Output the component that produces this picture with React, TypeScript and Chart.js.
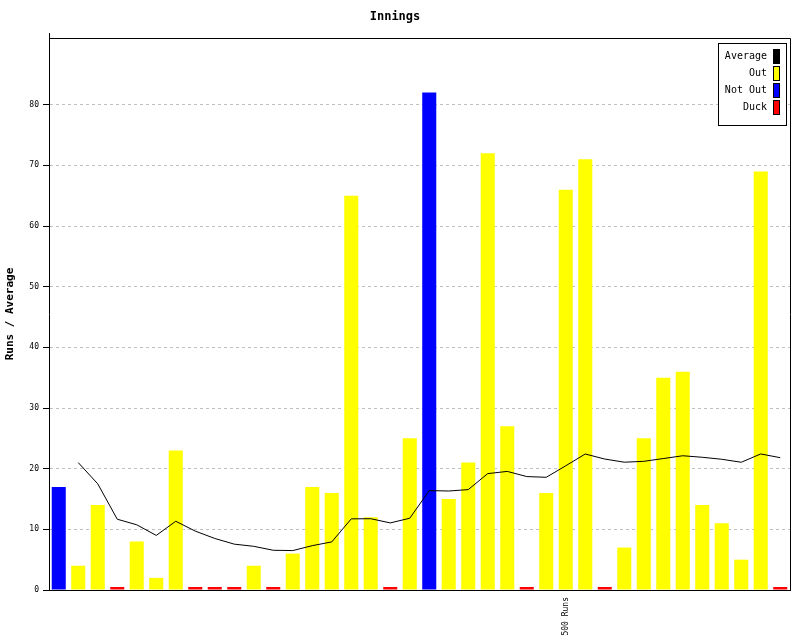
import React, { useEffect, useRef } from 'react';
import { Chart, registerables } from 'chart.js';

Chart.register(...registerables);

const chartTitle = 'Innings';
const yAxisTitle = 'Runs / Average';

const innings = [
  1, 2, 3, 4, 5, 6, 7, 8, 9, 10, 11, 12, 13, 14, 15, 16, 17, 18, 19,
  20, 21, 22, 23, 24, 25, 26, 27, 28, 29, 30, 31, 32, 33, 34, 35, 36, 37, 38,
];

const runs = [
  17, 4, 14, 0, 8, 2, 23, 0, 0, 0, 4, 0, 6, 17, 16, 65, 12, 0, 25,
  82, 15, 21, 72, 27, 0, 16, 66, 71, 0, 7, 25, 35, 36, 14, 11, 5, 69, 0,
];

const notOutInnings = [1, 20];

const average = [
  null, 21, 17.5, 11.67, 10.75, 9, 11.33, 9.71, 8.5, 7.56, 7.2, 6.55, 6.5, 7.31, 7.93, 11.73, 11.75, 11.06, 11.83,
  16.39, 16.32, 16.55, 19.19, 19.55, 18.7, 18.58, 20.48, 22.42, 21.59, 21.07, 21.21, 21.67, 22.13, 21.88, 21.55, 21.06, 22.43, 21.81,
];

const milestoneInnings = [27];
const milestoneLabels = ['500 Runs'];

const yTicks = [0, 10, 20, 30, 40, 50, 60, 70, 80];
const yMax = 91;

const legendLabels = ['Average', 'Out', 'Not Out', 'Duck'];
const legendColors = ['#000000', '#ffff00', '#0000ff', '#ff0000'];

const OUT_COLOR = '#ffff00';
const NOT_OUT_COLOR = '#0000ff';
const DUCK_COLOR = '#ff0000';

const MONO = '"DejaVu Sans Mono", "Liberation Mono", monospace';

const framePlugin = {
  id: 'frame',
  afterDraw(chart: any) {
    const { ctx, chartArea: a } = chart;
    ctx.save();
    ctx.strokeStyle = '#000';
    ctx.lineWidth = 1;
    ctx.beginPath();
    // left axis short extension above the area
    ctx.moveTo(Math.round(a.left) + 0.5, Math.round(a.top) - 5);
    ctx.lineTo(Math.round(a.left) + 0.5, Math.round(a.top) + 0.5);
    // top border
    ctx.lineTo(Math.round(a.right) + 0.5, Math.round(a.top) + 0.5);
    // right border
    ctx.lineTo(Math.round(a.right) + 0.5, Math.round(a.bottom) + 0.5);
    ctx.stroke();

    // legend
    const rowH = 17;
    const right = Math.round(a.right) - 4;
    const top = Math.round(a.top) + 5;
    const width = 68;
    const height = legendLabels.length * rowH + 14;
    ctx.fillStyle = '#fff';
    ctx.fillRect(right - width, top, width, height);
    ctx.strokeRect(right - width + 0.5, top + 0.5, width, height);
    ctx.font = `10px ${MONO}`;
    ctx.textAlign = 'right';
    ctx.textBaseline = 'middle';
    legendLabels.forEach((lab, i) => {
      const cy = top + 13 + i * rowH;
      ctx.fillStyle = '#000';
      ctx.fillText(lab, right - 19, cy);
      ctx.fillStyle = legendColors[i];
      ctx.fillRect(right - 13, cy - 7, 6, 14);
      ctx.strokeStyle = '#000';
      ctx.strokeRect(right - 13 + 0.5, cy - 7 + 0.5, 6, 14);
    });
    ctx.restore();
  },
};

export default function App() {
  const canvasRef = useRef<HTMLCanvasElement | null>(null);

  useEffect(() => {
    if (!canvasRef.current) return;
    const barColors = innings.map((inn, i) =>
      notOutInnings.includes(inn) ? NOT_OUT_COLOR : runs[i] === 0 ? DUCK_COLOR : OUT_COLOR
    );
    const chart = new Chart(canvasRef.current, {
      type: 'bar',
      data: {
        labels: innings.map(String),
        datasets: [
          {
            type: 'line',
            label: 'Average',
            data: average as any,
            borderColor: '#000',
            borderWidth: 1,
            pointRadius: 0,
            tension: 0,
            fill: false,
            order: 0,
          } as any,
          {
            type: 'bar',
            label: 'Runs',
            data: runs,
            backgroundColor: barColors,
            borderWidth: 0,
            barPercentage: 0.72,
            categoryPercentage: 1,
            minBarLength: 3,
            order: 1,
          } as any,
        ],
      },
      options: {
        responsive: false,
        maintainAspectRatio: false,
        animation: false,
        layout: { padding: { left: 0, right: 10, top: 0, bottom: 0 } },
        plugins: {
          legend: { display: false },
          tooltip: { enabled: false },
          title: {
            display: true,
            text: chartTitle,
            color: '#000',
            font: { family: MONO, size: 12, weight: 'bold', lineHeight: 1 },
            padding: { top: 11, bottom: 15 },
          },
        },
        scales: {
          x: {
            z: 1,
            offset: true,
            grid: { display: false, drawTicks: false },
            border: { display: true, color: '#000', width: 1 },
            ticks: {
              autoSkip: false,
              minRotation: 90,
              maxRotation: 90,
              padding: 7,
              color: '#000',
              font: { family: MONO, size: 8 },
              callback: (_v: any, idx: number) => {
                const k = milestoneInnings.indexOf(innings[idx]);
                return k >= 0 ? milestoneLabels[k] : '';
              },
            },
            afterFit: (scale: any) => {
              scale.height = 50;
            },
          },
          y: {
            z: 1,
            min: 0,
            max: yMax,
            afterBuildTicks: (scale: any) => {
              scale.ticks = yTicks.map((v) => ({ value: v }));
            },
            grid: {
              color: (c: any) => (c.tick && c.tick.value === 0 ? 'rgba(0,0,0,0)' : '#c0c0c0'),
              lineWidth: 1,
              drawTicks: true,
              tickLength: 6,
              tickColor: '#000',
            },
            border: { display: true, color: '#000', width: 1, dash: [3, 3] },
            ticks: {
              padding: 4,
              color: '#000',
              font: { family: MONO, size: 8 },
            },
            title: {
              display: true,
              text: yAxisTitle,
              color: '#000',
              font: { family: MONO, size: 11, weight: 'bold', lineHeight: 1.2 },
              padding: { top: 4, bottom: 0 },
            },
            afterFit: (scale: any) => {
              scale.width = 49;
            },
          },
        },
      },
      plugins: [framePlugin],
    });
    return () => chart.destroy();
  }, []);

  return (
    <div style={{ position: 'absolute', left: 0, top: 0, width: 800, height: 640, background: '#fff' }}>
      <canvas ref={canvasRef} width={800} height={640} style={{ display: 'block', width: 800, height: 640 }} />
    </div>
  );
}
